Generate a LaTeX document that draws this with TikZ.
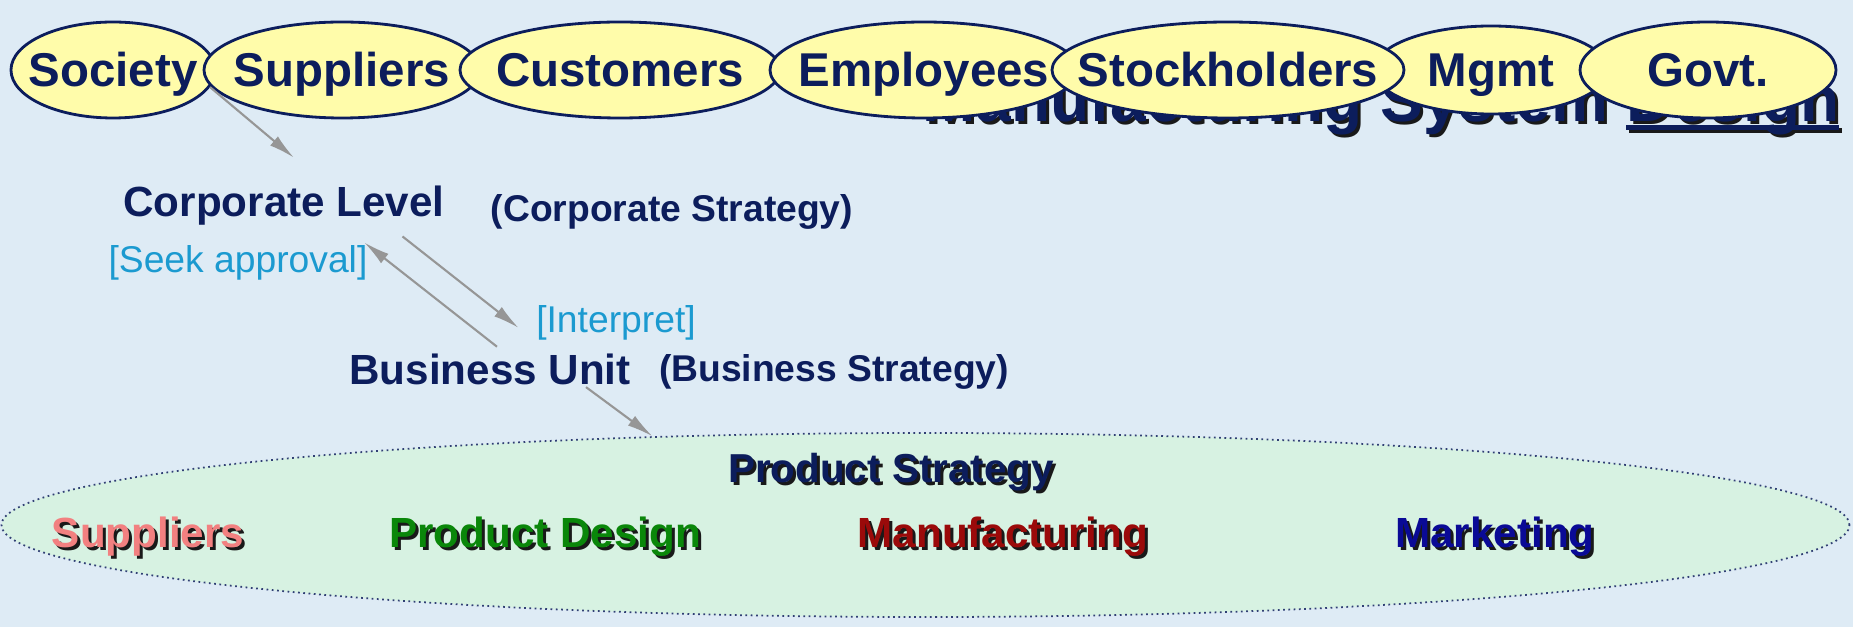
\documentclass[tikz,border=0pt]{standalone}
\usepackage{fontspec}
\setmainfont{Liberation Sans}
\usetikzlibrary{shapes.geometric,arrows.meta,calc}
\definecolor{slidebg}{RGB}{222,235,245}
\definecolor{navy}{RGB}{12,29,92}
\definecolor{paleyellow}{RGB}{255,252,170}
\definecolor{palegreen}{RGB}{215,242,226}
\definecolor{cyantext}{RGB}{27,154,208}
\definecolor{arrowgray}{RGB}{150,150,150}
\definecolor{shadowgray}{RGB}{25,25,25}
\definecolor{supppink}{RGB}{242,128,128}
\definecolor{designgreen}{RGB}{10,135,10}
\definecolor{manured}{RGB}{155,10,10}
\definecolor{marketblue}{RGB}{10,10,150}
\newcommand{\shad}[2]{\rlap{\kern0.03cm\raisebox{-0.03cm}{\color{shadowgray}#2}}{\color{#1}#2}}
\newcommand{\thickul}[1]{\setbox0=\hbox{#1}\rlap{\rule[-0.08cm]{\wd0}{0.045cm}}\box0}

\begin{document}
\begin{tikzpicture}[
  stake/.style={ellipse, draw=navy, line width=0.8pt, fill=paleyellow, inner sep=0pt,
    text height=0.34cm, text depth=0pt, text=navy, font=\fontsize{13.5}{16}\selectfont\bfseries},
  lvl/.style={anchor=base, inner sep=0pt, text=navy, font=\fontsize{12}{14}\selectfont\bfseries},
  strat/.style={anchor=base, inner sep=0pt, text=navy, font=\fontsize{10.6}{13}\selectfont\bfseries},
  note/.style={anchor=base, inner sep=0pt, text=cyantext, font=\fontsize{10.6}{13}\selectfont},
  func/.style={anchor=base, inner sep=0pt, font=\fontsize{12}{14}\selectfont\bfseries},
  arr/.style={-{Latex[length=0.26cm,width=0.12cm]}, draw=arrowgray, line width=0.6pt}]
\useasboundingbox[fill=slidebg] (0,0) rectangle (18.53,-6.27);

% title, mostly hidden by the stakeholders
\node[anchor=base east, inner sep=0pt, font=\fontsize{18.2}{22}\selectfont\bfseries] (title) at (18.40,-1.22)
  {\shad{navy}{Manufacturing System \thickul{Design}}};

% stakeholders
\node[stake, minimum width=2.04cm, minimum height=0.96cm] (soc) at (1.13,-0.70) {\makebox[0pt]{Society}};
\node[stake, minimum width=2.76cm, minimum height=0.96cm] (sup) at (3.42,-0.70) {\makebox[0pt]{Suppliers}};
\node[stake, minimum width=3.20cm, minimum height=0.96cm] (cus) at (6.20,-0.70) {\makebox[0pt]{Customers}};
\node[stake, minimum width=3.08cm, minimum height=0.96cm] (emp) at (9.24,-0.70) {\makebox[0pt]{Employees}};
\node[stake, minimum width=2.34cm, minimum height=0.88cm] (mgt) at (14.91,-0.70) {\makebox[0pt]{Mgmt}};
\node[stake, minimum width=3.52cm, minimum height=0.96cm] (stk) at (12.28,-0.70) {\makebox[0pt]{Stockholders}};
\node[stake, minimum width=2.56cm, minimum height=0.96cm] (gov) at (17.08,-0.70) {\makebox[0pt]{Govt.}};

% levels
\node[lvl] (corp) at (2.84,-2.17) {Corporate Level};
\node[strat] (corpstr) at (6.72,-2.22) {(Corporate Strategy)};
\node[note] (seek) at (2.38,-2.73) {[Seek approval]};
\node[note] (interp) at (6.16,-3.33) {[Interpret]};
\node[lvl] (bu) at (4.90,-3.85) {Business Unit};
\node[strat] (bustr) at (8.34,-3.82) {(Business Strategy)};

% product strategy
\node[ellipse, draw=navy!85, densely dotted, line width=0.5pt, fill=palegreen,
  minimum width=18.48cm, minimum height=1.84cm] (prod) at (9.255,-5.25) {};
\node[func, font=\fontsize{11.5}{14}\selectfont\bfseries] (pstrat) at (8.91,-4.83) {\shad{navy}{Product Strategy}};
\node[func] (fsup) at (1.48,-5.48) {\shad{supppink}{Suppliers}};
\node[func] (fdes) at (5.45,-5.48) {\shad{designgreen}{Product Design}};
\node[func] (fman) at (10.03,-5.48) {\shad{manured}{Manufacturing}};
\node[func] (fmar) at (14.95,-5.48) {\shad{marketblue}{Marketing}};

% arrows
\draw[arr] (soc.-10) -- ($(corp.north)+(0.10,0.28)$);
\draw[arr] ($(corp.south)+(1.185,-0.10)$) -- ($(interp.west)+(-0.17,-0.045)$);
\draw[arr] ($(bu.north)+(0.07,0.07)$) -- ($(corp.south east)+(-0.81,-0.16)$);
\draw[arr] ($(bu.south)+(0.96,-0.01)$) -- (prod.162.6);
\end{tikzpicture}
\end{document}
